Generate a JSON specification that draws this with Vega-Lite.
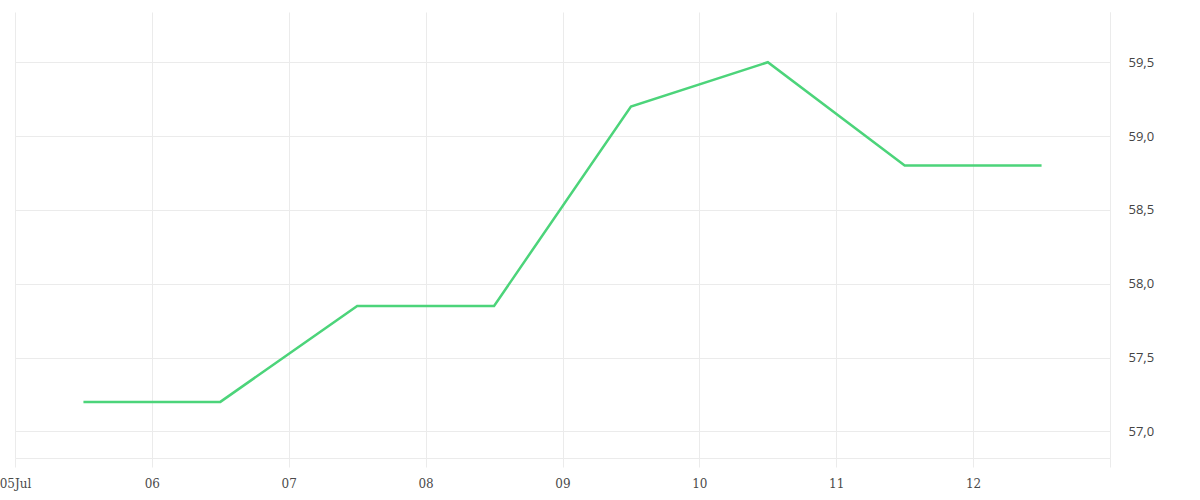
{
  "$schema": "https://vega.github.io/schema/vega-lite/v6.json",
  "autosize": {"type": "none"},
  "padding": {"left": 15, "top": 12, "right": 90, "bottom": 42},
  "width": 1095,
  "height": 446,
  "background": "white",
  "config": {"view": {"stroke": null}},
  "data": {"values": [
    {"date": "2023-07-05T12:00:00Z", "value": 57.2},
    {"date": "2023-07-06T12:00:00Z", "value": 57.2},
    {"date": "2023-07-07T12:00:00Z", "value": 57.85},
    {"date": "2023-07-08T12:00:00Z", "value": 57.85},
    {"date": "2023-07-09T12:00:00Z", "value": 59.2},
    {"date": "2023-07-10T12:00:00Z", "value": 59.5},
    {"date": "2023-07-11T12:00:00Z", "value": 58.8},
    {"date": "2023-07-12T12:00:00Z", "value": 58.8}
  ]},
  "mark": {"type": "line", "color": "#4cd47a", "strokeWidth": 2.5},
  "encoding": {
    "x": {
      "field": "date", "type": "temporal", "title": null,
      "scale": {"type": "utc", "domain": ["2023-07-05T00:00:00Z", "2023-07-13T00:00:00Z"]},
      "axis": {
        "tickCount": {"interval": "day", "step": 1},
        "labelExpr": "utcdate(datum.value)==5 ? utcFormat(datum.value,'%d%b') : (utcdate(datum.value)==13 ? '' : utcFormat(datum.value,'%d'))",
        "grid": true, "gridColor": "#ebebeb", "gridWidth": 1,
        "ticks": true, "tickSize": 9, "tickColor": "#ebebeb",
        "domain": true, "domainColor": "#ebebeb",
        "labelFont": "DejaVu Serif", "labelFontSize": 12, "labelColor": "#4a4a4a",
        "labelPadding": 11, "labelFlush": false, "labelOverlap": false
      }
    },
    "y": {
      "field": "value", "type": "quantitative", "title": null,
      "scale": {"domain": [56.82, 59.84], "nice": false, "zero": false},
      "axis": {
        "orient": "right",
        "values": [57, 57.5, 58, 58.5, 59, 59.5],
        "labelExpr": "replace(format(datum.value,'.1f'),'.',',')",
        "grid": true, "gridColor": "#ebebeb",
        "ticks": false, "domain": true, "domainColor": "#ebebeb",
        "labelPadding": 18,
        "labelFont": "Open Sans", "labelFontSize": 13, "labelColor": "#444444"
      }
    }
  }
}
